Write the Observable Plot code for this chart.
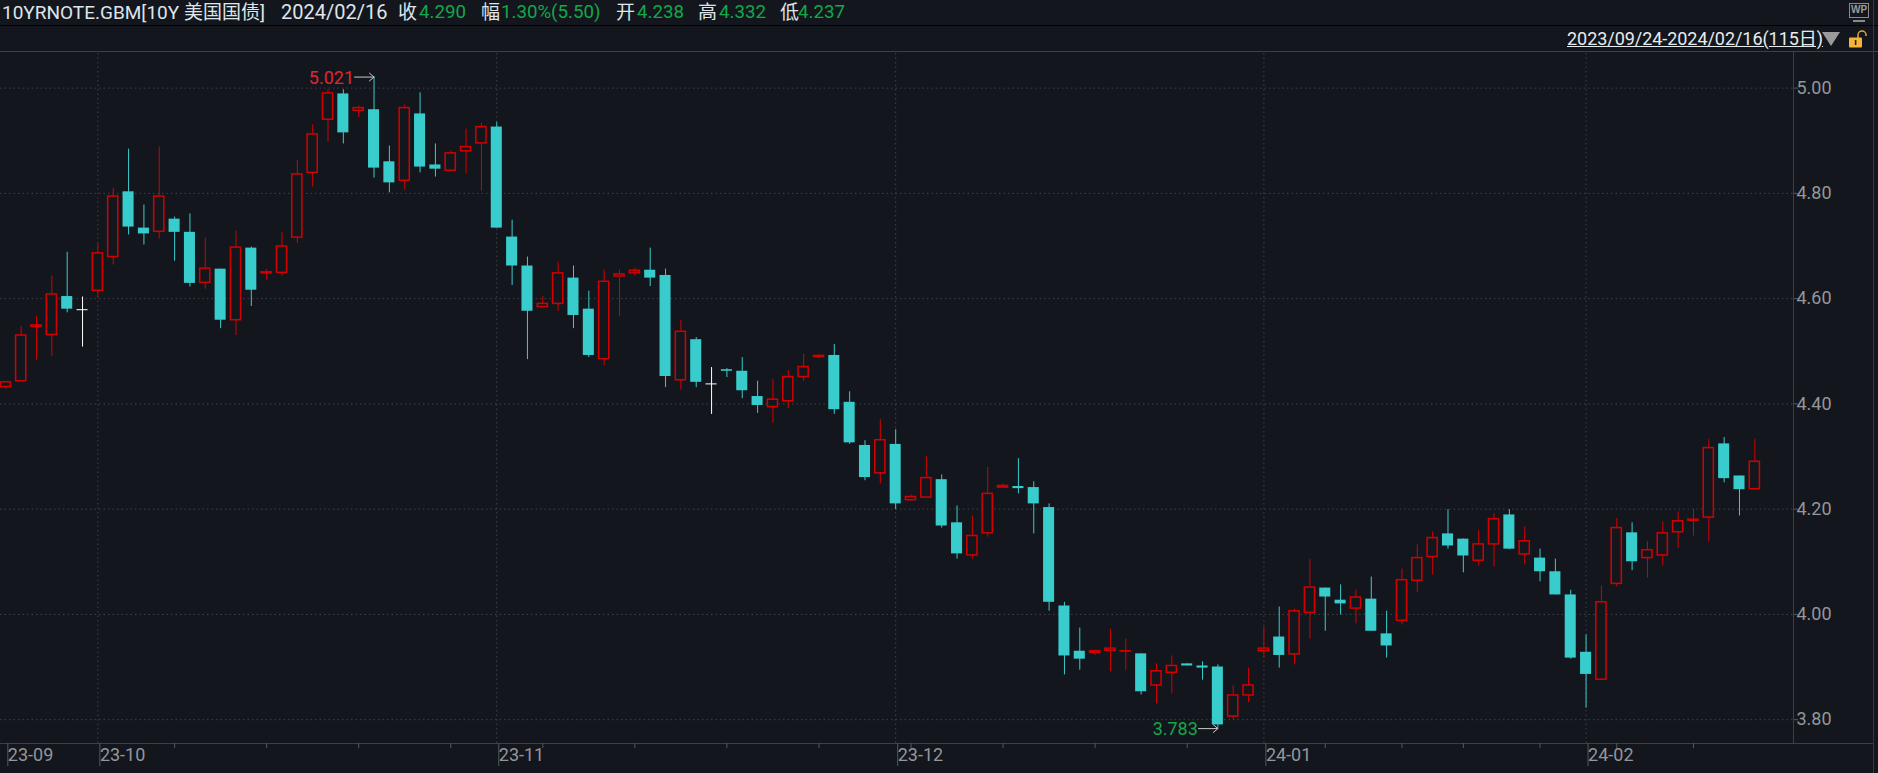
<!DOCTYPE html>
<html><head><meta charset="utf-8">
<script src="https://cdn.jsdelivr.net/npm/d3@7"></script>
<script src="https://cdn.jsdelivr.net/npm/@observablehq/plot@0.6"></script>
<style>
html,body{margin:0;padding:0;background:#13171d;width:1878px;height:773px;overflow:hidden;}
body{position:relative;font-family:Roboto,"Noto Sans CJK SC",sans-serif;}
#head{position:relative;height:52px;box-sizing:border-box;border-bottom:1px solid #3c3f44;}
#sep{position:absolute;left:0;right:0;top:25px;height:1px;background:#000;}
#edge{position:absolute;top:0;bottom:0;left:1873px;width:1px;background:#34373c;z-index:2;}
#head span.t{position:absolute;top:0;line-height:25px;font-size:19px;white-space:nowrap;color:#dfe5ea;font-weight:400;}
#head span.g{color:#12a84a;font-weight:400;font-size:18.7px;}
#range{position:absolute;left:1567px;top:27px;line-height:24px;font-size:18px;color:#e6ebf0;text-decoration:underline;white-space:nowrap;font-weight:400;letter-spacing:-0.05px;}
#tri{position:absolute;left:1822px;top:32px;width:0;height:0;border-left:9px solid transparent;border-right:9px solid transparent;border-top:14px solid #9a9a9a;}
#lock{position:absolute;left:1848px;top:30px;}
#wp{position:absolute;left:1849px;top:3px;width:20px;height:15px;border:1.5px solid #8a8a8a;box-sizing:border-box;color:#9a9a9a;font:bold 10px/12px "Liberation Sans";text-align:center;}
#wpb{position:absolute;left:1853px;top:20px;width:12px;height:2px;background:#8a8a8a;}
</style></head><body>
<div id="head"><div id="sep"></div>
<span class="t" style="left:2px">10YRNOTE.GBM[10Y 美国国债]</span>
<span class="t" style="left:281px;font-size:20px">2024/02/16</span>
<span class="t" style="left:398px">收</span><span class="t g" style="left:419px">4.290</span>
<span class="t" style="left:481px">幅</span><span class="t g" style="left:501px">1.30%(5.50)</span>
<span class="t" style="left:616px">开</span><span class="t g" style="left:637px">4.238</span>
<span class="t" style="left:698px">高</span><span class="t g" style="left:719px">4.332</span>
<span class="t" style="left:780px">低</span><span class="t g" style="left:798px">4.237</span>
<div id="range">2023/09/24-2024/02/16(115日)</div><div id="tri"></div>
<svg id="lock" width="20" height="20" viewBox="0 0 20 20"><path d="M10 8V5a4 4 0 0 1 8 0v1" fill="none" stroke="#e6a92f" stroke-width="1.5"/><rect x="1" y="7.5" width="13" height="10" rx="1" fill="#f3b437"/><rect x="6.8" y="10" width="1.6" height="5" fill="#222"/></svg>
<div id="wp">WP</div><div id="wpb"></div>
</div>
<div id="edge"></div>
<div id="chart"></div>
<script>
const open_ = [4.432,4.443,4.546,4.531,4.604,4.579,4.615,4.679,4.803,4.734,4.727,4.751,4.726,4.630,4.656,4.559,4.696,4.648,4.649,4.716,4.839,4.940,4.989,4.957,4.959,4.860,4.824,4.951,4.854,4.843,4.880,4.895,4.926,4.717,4.662,4.584,4.590,4.639,4.580,4.485,4.642,4.648,4.654,4.644,4.445,4.522,4.438,4.465,4.462,4.414,4.394,4.405,4.451,4.489,4.492,4.403,4.321,4.268,4.323,4.217,4.222,4.256,4.174,4.112,4.154,4.241,4.243,4.241,4.203,4.016,3.930,3.927,3.931,3.9295,3.925,3.865,3.889,3.906,3.902,3.900,3.806,3.846,3.930,3.957,3.924,4.003,4.050,4.027,4.011,4.029,3.963,3.988,4.064,4.109,4.153,4.143,4.102,4.133,4.189,4.114,4.107,4.081,4.037,3.928,3.876,4.058,4.155,4.107,4.112,4.156,4.178,4.184,4.324,4.263,4.238];
const high = [4.441,4.547,4.566,4.643,4.688,4.603,4.705,4.810,4.884,4.778,4.888,4.755,4.761,4.715,4.656,4.728,4.698,4.655,4.726,4.863,4.930,4.997,4.997,4.966,5.021,4.890,4.968,4.991,4.894,4.880,4.922,4.933,4.935,4.749,4.679,4.604,4.669,4.662,4.614,4.654,4.654,4.658,4.696,4.656,4.559,4.526,4.469,4.467,4.488,4.443,4.446,4.463,4.494,4.494,4.513,4.423,4.330,4.370,4.351,4.227,4.300,4.265,4.206,4.187,4.279,4.248,4.296,4.252,4.210,4.023,3.974,3.932,3.972,3.953,3.925,3.906,3.921,3.906,3.910,3.904,3.864,3.898,3.976,4.014,4.010,4.104,4.050,4.056,4.046,4.071,4.006,4.086,4.132,4.157,4.199,4.143,4.159,4.191,4.199,4.166,4.124,4.105,4.046,3.961,4.054,4.182,4.174,4.138,4.176,4.195,4.200,4.332,4.336,4.263,4.332];
const low = [4.428,4.443,4.483,4.490,4.573,4.508,4.601,4.664,4.721,4.702,4.713,4.671,4.622,4.618,4.543,4.530,4.585,4.635,4.643,4.705,4.812,4.897,4.894,4.944,4.829,4.801,4.806,4.839,4.831,4.843,4.837,4.804,4.734,4.625,4.484,4.584,4.576,4.543,4.488,4.473,4.566,4.643,4.623,4.431,4.426,4.431,4.380,4.450,4.410,4.382,4.363,4.391,4.443,4.489,4.380,4.323,4.254,4.248,4.199,4.215,4.222,4.164,4.105,4.105,4.147,4.241,4.229,4.153,4.006,3.885,3.894,3.922,3.891,3.894,3.847,3.830,3.849,3.902,3.875,3.783,3.799,3.832,3.917,3.898,3.904,3.953,3.968,3.999,3.982,3.968,3.917,3.980,4.041,4.075,4.124,4.079,4.092,4.090,4.123,4.094,4.062,4.037,3.915,3.822,3.874,4.052,4.083,4.069,4.092,4.126,4.149,4.138,4.250,4.187,4.237];
const close_ = [4.441,4.530,4.549,4.608,4.580,4.579,4.686,4.794,4.736,4.723,4.794,4.726,4.629,4.657,4.559,4.697,4.616,4.650,4.699,4.836,4.912,4.990,4.915,4.962,4.848,4.820,4.962,4.850,4.846,4.876,4.888,4.926,4.734,4.662,4.576,4.590,4.648,4.568,4.492,4.632,4.646,4.653,4.639,4.452,4.537,4.441,4.438,4.462,4.425,4.397,4.408,4.451,4.470,4.491,4.389,4.326,4.260,4.331,4.210,4.223,4.259,4.168,4.115,4.149,4.229,4.244,4.239,4.210,4.023,3.921,3.915,3.930,3.935,3.930,3.853,3.892,3.902,3.902,3.898,3.790,3.846,3.865,3.935,3.922,4.006,4.051,4.033,4.020,4.032,3.968,3.940,4.065,4.107,4.145,4.130,4.111,4.133,4.181,4.124,4.139,4.081,4.037,3.917,3.886,4.023,4.164,4.100,4.122,4.154,4.177,4.180,4.316,4.258,4.237,4.290];
const yTicks = [3.8,4.0,4.2,4.4,4.6,4.8,5.0];
const monthIdx = [0,6,32,58,82,103];
const monthLabels = ["23-09","23-10","23-11","23-12","24-01","24-02"];
const minorIdx = [11,17,23,29,35,41,47,53,59,65,71,77,86,91,95,100,105,110];
const extremes = [
  {label:"5.021", value:5.021, idx:24, from:22.73, color:"#e3242f"},
  {label:"3.783", value:3.783, idx:79, from:77.74, color:"#12a84a"}
];

const RED="#d40000", CYAN="#39cccc", BG="#13171d", GRID="#3f4247", LINE="#3c3f44", LABEL="#93969a";
const candles = open_.map((o,i)=>({i,open:o,high:high[i],low:low[i],close:close_[i]}));
const colorOf = d => d.close>d.open ? RED : d.close<d.open ? CYAN : "#ffffff";
const xMin=-0.3474, xMax=116.52, xEdge=121.73, yMin=3.7547, yMax=5.0677;

const plot = Plot.plot({
  width:1878, height:721,
  marginLeft:0, marginRight:85, marginTop:0, marginBottom:30,
  style:{background:BG, fontFamily:'Roboto,"Noto Sans CJK SC",sans-serif', fontSize:"18px", fontWeight:400, overflow:"visible"},
  x:{type:"linear", domain:[xMin,xMax], axis:null},
  y:{type:"linear", domain:[yMin,yMax], axis:null},
  marks:[
    Plot.ruleY(yTicks.map(v=>({v})),{y:"v",x1:xMin,x2:xMax,stroke:GRID,strokeDasharray:"1.5 3"}),
    Plot.ruleX(monthIdx.slice(1).map(v=>({v})),{x:"v",y1:yMin,y2:yMax,stroke:GRID,strokeDasharray:"1.5 3"}),
    Plot.ruleY([{v:yMin}],{y:"v",x1:xMin,x2:xEdge,stroke:LINE}),
    Plot.ruleX([{v:xMax}],{x:"v",y1:yMin,y2:yMax,stroke:LINE}),
    Plot.axisY(yTicks,{anchor:"right",tickSize:4,tickPadding:-1,tickFormat:d3.format(".2f"),stroke:"#55585c",fill:LABEL,label:null}),
    Plot.axisX(monthIdx,{anchor:"bottom",tickSize:23,tickPadding:-18,textAnchor:"start",dx:2,
      tickFormat:i=>monthLabels[monthIdx.indexOf(i)],stroke:"#55585c",fill:LABEL,label:null}),
    Plot.axisX(minorIdx,{anchor:"bottom",tickSize:5,stroke:"#55585c",fill:"none",label:null}),
    Plot.ruleX(candles,{x:"i",y1:"low",y2:"high",stroke:colorOf,strokeWidth:1}),
    Plot.rect(candles.filter(d=>d.close!==d.open),{
      x1:d=>d.i-(d.close>d.open?0.33:0.36), x2:d=>d.i+(d.close>d.open?0.33:0.36),
      y1:"open", y2:"close",
      fill:d=>d.close>d.open?BG:CYAN, stroke:d=>d.close>d.open?RED:"none", strokeWidth:1.5}),
    Plot.ruleY(candles.filter(d=>d.close===d.open),{y:"open",x1:d=>d.i-0.36,x2:d=>d.i+0.36,stroke:"#ffffff"}),
    Plot.arrow(extremes,{x1:"from",x2:"idx",y1:"value",y2:"value",stroke:"#c8c8c8",headLength:9,headAngle:80,strokeWidth:1}),
    Plot.text(extremes,{x:"idx",y:"value",text:"label",fill:"color",textAnchor:"end",dx:-20,dy:1,fontSize:18})
  ]
});
document.getElementById("chart").appendChild(plot);
</script>
</body></html>
